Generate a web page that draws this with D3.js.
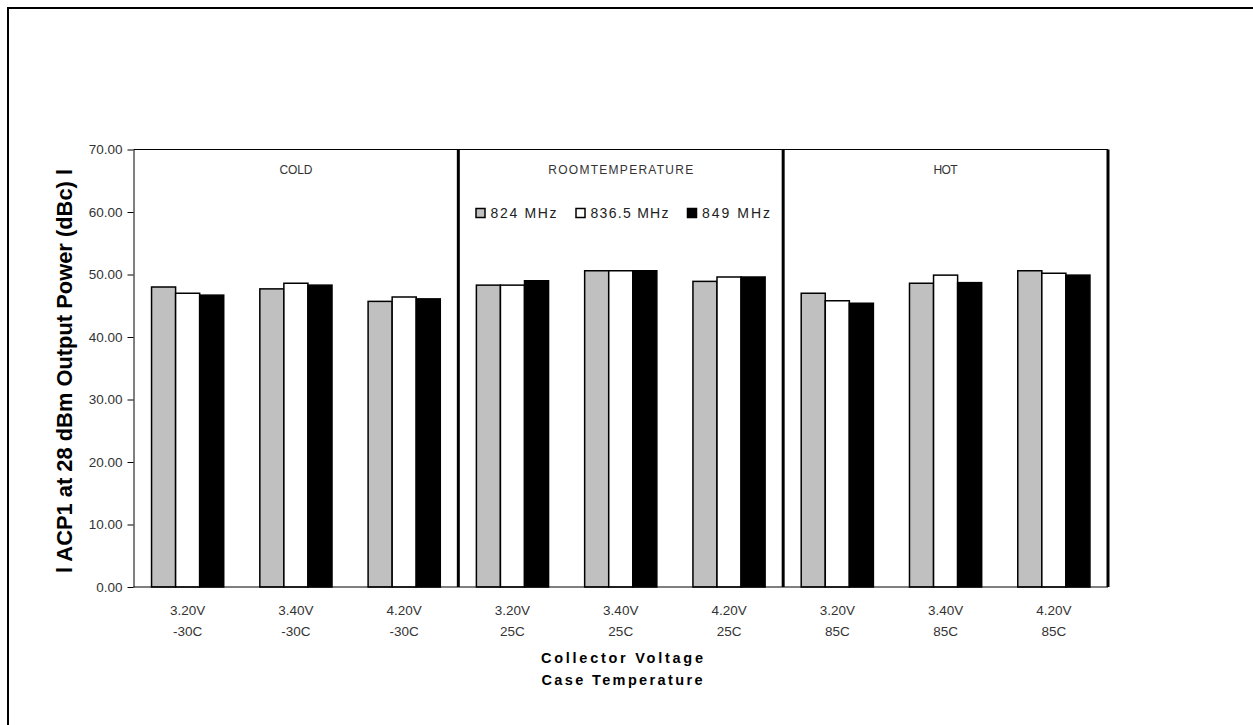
<!DOCTYPE html>
<html><head><meta charset="utf-8">
<script src="https://cdn.jsdelivr.net/npm/d3@7/dist/d3.min.js"></script>
<style>body{margin:0;background:#fff;}svg{display:block;font-family:"Liberation Sans",Arial,sans-serif;}</style>
</head><body>
<svg id="c" width="1253" height="725"></svg>
<script>
const voltages = ["3.20V","3.40V","4.20V","3.20V","3.40V","4.20V","3.20V","3.40V","4.20V"];
const temps = ["-30C","-30C","-30C","25C","25C","25C","85C","85C","85C"];
const regions = ["COLD","ROOMTEMPERATURE","HOT"];
const seriesNames = ["824 MHz","836.5 MHz","849 MHz"];
const seriesColors = ["#c0c0c0","#ffffff","#000000"];
const s824  = [48.0, 47.7, 45.7, 48.3, 50.6, 48.9, 47.0, 48.6, 50.6];
const s836  = [47.0, 48.6, 46.4, 48.3, 50.6, 49.6, 45.8, 49.9, 50.2];
const s849  = [46.7, 48.3, 46.1, 49.0, 50.6, 49.6, 45.4, 48.7, 49.9];
const yTicks = [0,10,20,30,40,50,60,70];

const svg = d3.select("#c");
const L = 133.5, R = 1108, T = 149.5, B = 587;
const cats = d3.range(9);
const x = d3.scaleBand().domain(cats).range([L, R]).paddingInner(0).paddingOuter(0);
const inner = d3.scaleBand().domain([0,1,2]).range([0, x.bandwidth()]).paddingInner(0).paddingOuter(0.75);
const y = d3.scaleLinear().domain([0,70]).range([B, T]);

svg.append("path").attr("d","M8,725 V8 H1253").attr("fill","none").attr("stroke","#000").attr("stroke-width",2);

svg.append("line").attr("x1",L).attr("x2",R).attr("y1",T).attr("y2",T).attr("stroke","#000").attr("stroke-width",1);

const yAxis = d3.axisLeft(y).tickValues(yTicks).tickSize(6).tickSizeOuter(0).tickFormat(d3.format(".2f"));
const ya = svg.append("g").attr("transform",`translate(${L},0)`).call(yAxis);
ya.select(".domain").attr("stroke","#000");
ya.selectAll(".tick line").attr("stroke","#000");
ya.selectAll(".tick text").attr("font-size","13.5px").attr("fill","#333").attr("x",-11).attr("font-family","Liberation Sans, Arial, sans-serif");

const series = [s824, s836, s849];
series.forEach((vals, si) => {
  svg.append("g").selectAll("rect").data(cats).join("rect")
    .attr("x", i => x(i) + inner(si))
    .attr("width", inner.bandwidth())
    .attr("y", i => y(vals[i]))
    .attr("height", i => B - y(vals[i]))
    .attr("fill", seriesColors[si])
    .attr("stroke","#000").attr("stroke-width",1.5);
});

svg.append("line").attr("x1",L).attr("x2",R).attr("y1",B).attr("y2",B).attr("stroke","#000").attr("stroke-width",1);

[3,6,9].forEach(k => {
  const xx = k === 9 ? R : x(k);
  svg.append("line").attr("x1",xx).attr("x2",xx).attr("y1",T).attr("y2",B).attr("stroke","#000").attr("stroke-width",3);
});

const regionLen = [33, 145, 24];
regions.forEach((r, k) => {
  const cx = x(k*3) + x.bandwidth()*1.5;
  svg.append("text").attr("x",cx).attr("y",173.5).attr("text-anchor","middle")
    .attr("font-size","12px").attr("fill","#333")
    .attr("textLength",regionLen[k]).attr("lengthAdjust","spacing").text(r);
});

const legX = [476, 576, 687.5];
const legLen = [66, 78, 68];
seriesNames.forEach((n, si) => {
  svg.append("rect").attr("x",legX[si]).attr("y",208.5).attr("width",9).attr("height",9)
    .attr("fill",seriesColors[si]).attr("stroke","#000").attr("stroke-width",1.5);
  svg.append("text").attr("x",legX[si]+14.5).attr("y",217.5).attr("font-size","14px").attr("fill","#222")
    .attr("textLength",legLen[si]).attr("lengthAdjust","spacing").text(n);
});

cats.forEach(i => {
  const cx = x(i) + x.bandwidth()/2;
  svg.append("text").attr("x",cx).attr("y",615).attr("text-anchor","middle").attr("font-size","13.5px").attr("fill","#333").text(voltages[i]);
  svg.append("text").attr("x",cx).attr("y",636).attr("text-anchor","middle").attr("font-size","13.5px").attr("fill","#333").text(temps[i]);
});

svg.append("text").attr("x",622).attr("y",663).attr("text-anchor","middle").attr("font-weight","bold").attr("font-size","14.5px")
  .attr("textLength",162).attr("lengthAdjust","spacing").text("Collector Voltage");
svg.append("text").attr("x",622).attr("y",685).attr("text-anchor","middle").attr("font-weight","bold").attr("font-size","14.5px")
  .attr("textLength",161).attr("lengthAdjust","spacing").text("Case Temperature");

svg.append("text").attr("transform","translate(72,371) rotate(-90)").attr("text-anchor","middle")
  .attr("font-weight","bold").attr("font-size","22px").attr("textLength",404).attr("lengthAdjust","spacingAndGlyphs")
  .text("l ACP1 at 28 dBm Output Power (dBc) l");
</script>
</body></html>
